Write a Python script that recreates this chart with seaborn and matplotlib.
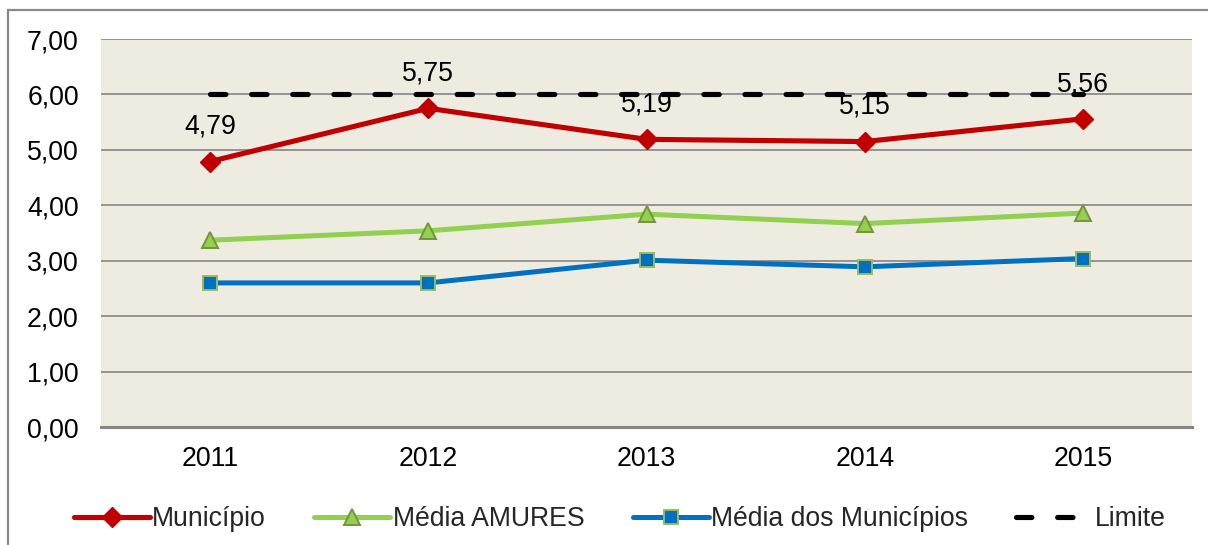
import matplotlib
matplotlib.use("Agg")
import matplotlib.pyplot as plt
from matplotlib.lines import Line2D
from matplotlib.ticker import FuncFormatter, MultipleLocator
import pandas as pd
import seaborn as sns

# ── Data ────────────────────────────────────────────────────
years = [2011, 2012, 2013, 2014, 2015]
municipio = [4.79, 5.75, 5.19, 5.15, 5.56]
media_amures = [3.37, 3.54, 3.84, 3.67, 3.86]
media_municipios = [2.60, 2.60, 3.01, 2.89, 3.04]
limite = [6.00, 6.00, 6.00, 6.00, 6.00]

df = pd.DataFrame({
    "Ano": years,
    "Município": municipio,
    "Média AMURES": media_amures,
    "Média dos Municípios": media_municipios,
    "Limite": limite,
})

# ── Style ───────────────────────────────────────────────────
sns.set_theme(style="white")
plt.rcParams["font.family"] = ["Liberation Sans", "DejaVu Sans"]
FS = 19.2

COLORS = {
    "red": "#C00000",
    "green": "#92D050",
    "olive": "#77933C",
    "blue": "#0070C0",
    "lightgreen": "#9BBB59",
    "bg": "#EEEBE1",
    "grid": "#8C8C8C",
}

fig = plt.figure(figsize=(12.08, 5.45), dpi=100)
ax = fig.add_axes([0.0836, 0.2165, 0.9032, 0.7119])
ax.set_facecolor(COLORS["bg"])

# Limite (dashed)
sns.lineplot(data=df, x="Ano", y="Limite", ax=ax, color="black", linewidth=3.7,
             linestyle=(0, (3.0, 5.0)), dash_capstyle="round", label="Limite",
             legend=False)

# Município
sns.lineplot(data=df, x="Ano", y="Município", ax=ax, color=COLORS["red"], linewidth=3.7,
             marker="D", markersize=10.5, markerfacecolor=COLORS["red"],
             markeredgecolor=COLORS["red"], markeredgewidth=1,
             label="Município", legend=False)

# Média AMURES
sns.lineplot(data=df, x="Ano", y="Média AMURES", ax=ax, color=COLORS["green"],
             linewidth=3.6, marker="^", markersize=11, markerfacecolor=COLORS["green"],
             markeredgecolor=COLORS["olive"], markeredgewidth=1.4,
             label="Média AMURES", legend=False)

# Média dos Municípios
sns.lineplot(data=df, x="Ano", y="Média dos Municípios", ax=ax, color=COLORS["blue"],
             linewidth=3.6, marker="s", markersize=10.5, markerfacecolor=COLORS["blue"],
             markeredgecolor=COLORS["lightgreen"], markeredgewidth=1.4,
             label="Média dos Municípios", legend=False)

# data labels for Município
for x, y in zip(years, municipio):
    ax.annotate(f"{y:.2f}".replace(".", ","), (x, y), xytext=(0, 25),
                textcoords="offset points", ha="center", va="center",
                fontsize=FS, color="black")

# ── Axes ────────────────────────────────────────────────────
ax.set_xlim(years[0] - 0.5, years[-1] + 0.5)
ax.set_ylim(0, 7)
ax.set_xticks(years)
ax.set_xticklabels([str(y) for y in years])
ax.yaxis.set_major_locator(MultipleLocator(1))
ax.yaxis.set_major_formatter(FuncFormatter(lambda v, _: f"{v:.2f}".replace(".", ",")))
ax.set_xlabel("")
ax.set_ylabel("")
ax.tick_params(axis="both", length=0, labelsize=FS, colors="black")
ax.tick_params(axis="y", pad=16)
ax.tick_params(axis="x", pad=14)

ax.yaxis.grid(True, color=COLORS["grid"], lw=1.3)
ax.xaxis.grid(False)
ax.set_axisbelow(True)
for side in ["top", "right", "left"]:
    ax.spines[side].set_visible(False)
ax.spines["bottom"].set_color("#858585")
ax.spines["bottom"].set_linewidth(2.2)

# ── Legend ──────────────────────────────────────────────────
handles, labels = ax.get_legend_handles_labels()
order = ["Município", "Média AMURES", "Média dos Municípios", "Limite"]
hmap = dict(zip(labels, handles))
fig.legend([hmap[k] for k in order], order, loc="center",
           bbox_to_anchor=(0.513, 0.048), ncol=4, frameon=False,
           handlelength=2.85, handletextpad=0.1, columnspacing=1.8,
           fontsize=FS)

# outer chart frame (top and left visible)
x0 = 8 / 1208
y0 = 1 - 10 / 545
fig.add_artist(Line2D([x0, 1.0], [y0, y0], transform=fig.transFigure,
                      color="#898989", lw=1.6))
fig.add_artist(Line2D([x0, x0], [0.0, y0], transform=fig.transFigure,
                      color="#898989", lw=1.6))

plt.savefig("out.png", dpi=100)
plt.close()
